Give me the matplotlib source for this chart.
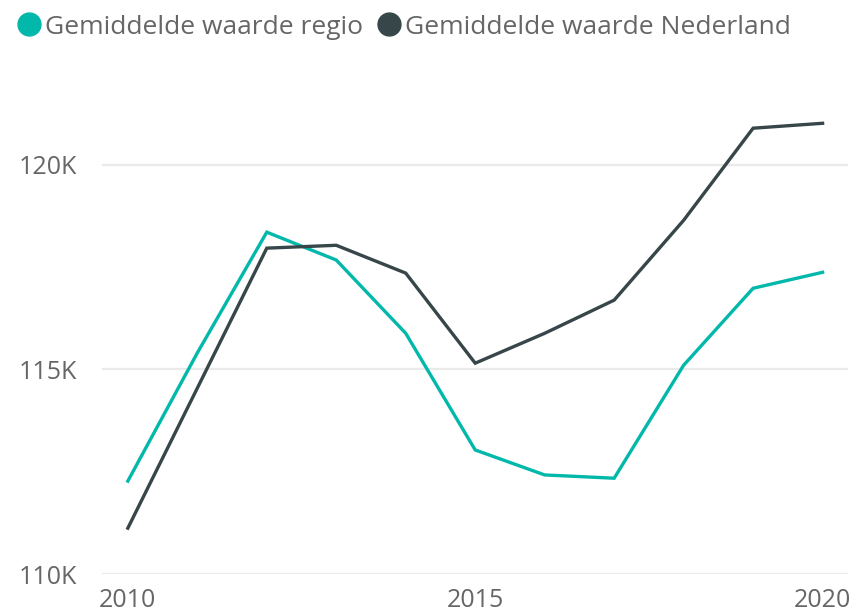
import matplotlib.pyplot as plt
from matplotlib.lines import Line2D
from matplotlib.ticker import FuncFormatter

plt.rcParams['font.family'] = ['Open Sans', 'DejaVu Sans']

# Gemiddelde waarde per jaar
jaren = [2010, 2011, 2012, 2013, 2014, 2015, 2016, 2017, 2018, 2019, 2020]
waarde_regio = [112.27, 115.40, 118.35, 117.67, 115.88, 113.03, 112.42, 112.34, 115.10, 116.98, 117.37]
waarde_nederland = [111.12, 114.54, 117.96, 118.03, 117.35, 115.15, 115.88, 116.69, 118.64, 120.89, 121.01]

reeksen = ['Gemiddelde waarde regio', 'Gemiddelde waarde Nederland']
y_ticks = [110, 115, 120]
x_ticks = [2010, 2015, 2020]

kleur_regio = '#01B8AA'
kleur_nl = '#374649'
tekst_kleur = '#666666'

fig = plt.figure(figsize=(8.51, 6.13), dpi=100, facecolor='white')
ax = fig.add_axes([0.12, 0.0636, 0.876, 0.8014])

ax.plot(jaren, waarde_regio, color=kleur_regio, linewidth=2.4, solid_joinstyle='miter')
ax.plot(jaren, waarde_nederland, color=kleur_nl, linewidth=2.4, solid_joinstyle='miter')

ax.set_xlim(2009.63, 2020.36)
ax.set_ylim(110, 122)
ax.set_yticks(y_ticks)
ax.set_xticks(x_ticks)
ax.yaxis.set_major_formatter(FuncFormatter(lambda v, p: f'{v:.0f}K'))

ax.grid(axis='y', color='#EAEAEA', linewidth=1.6)
ax.set_axisbelow(True)
for s in ax.spines.values():
    s.set_visible(False)
ax.tick_params(axis='both', length=0, labelsize=18, colors=tekst_kleur)
ax.tick_params(axis='y', pad=18)
ax.tick_params(axis='x', pad=10)

# legenda bovenaan
handles = [Line2D([], [], marker='o', linestyle='none', markersize=16.5, color=c)
           for c in (kleur_regio, kleur_nl)]
fig.legend(handles, reeksen, loc='center left', bbox_to_anchor=(0.0056, 1 - 27 / 613), ncol=2,
           frameon=False, fontsize=19, labelcolor=tekst_kleur, handletextpad=0.125,
           columnspacing=0.48, handlelength=1.0, borderaxespad=0.0)

plt.savefig('out.png', dpi=100, facecolor='white')
plt.close()
